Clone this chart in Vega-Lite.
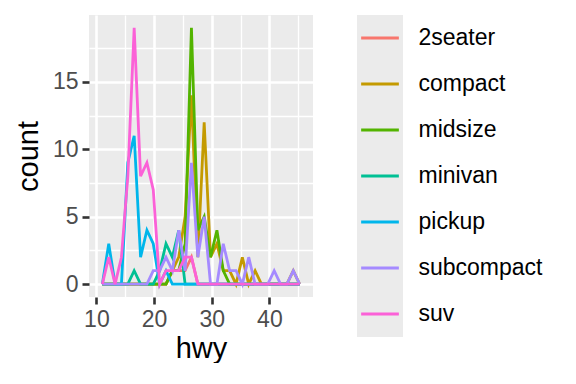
{
"$schema": "https://vega.github.io/schema/vega-lite/v6.json",
"padding": {"left": 14, "top": 15, "right": 0, "bottom": 0},
"background": "white",
"config": {"view": {"stroke": null}, "font": "Liberation Sans", "concat": {"spacing": 44}},
"datasets": {
"freq": [
{"class":"2seater","hwy":11.03,"count":0},{"class":"2seater","hwy":12.14,"count":0},{"class":"2seater","hwy":13.24,"count":0},{"class":"2seater","hwy":14.34,"count":0},{"class":"2seater","hwy":15.45,"count":0},{"class":"2seater","hwy":16.55,"count":0},{"class":"2seater","hwy":17.66,"count":0},{"class":"2seater","hwy":18.76,"count":0},{"class":"2seater","hwy":19.86,"count":0},{"class":"2seater","hwy":20.97,"count":0},{"class":"2seater","hwy":22.07,"count":0},{"class":"2seater","hwy":23.17,"count":1},{"class":"2seater","hwy":24.28,"count":1},{"class":"2seater","hwy":25.38,"count":1},{"class":"2seater","hwy":26.48,"count":2},{"class":"2seater","hwy":27.59,"count":0},{"class":"2seater","hwy":28.69,"count":0},{"class":"2seater","hwy":29.79,"count":0},{"class":"2seater","hwy":30.9,"count":0},{"class":"2seater","hwy":32,"count":0},{"class":"2seater","hwy":33.1,"count":0},{"class":"2seater","hwy":34.21,"count":0},{"class":"2seater","hwy":35.31,"count":0},{"class":"2seater","hwy":36.41,"count":0},{"class":"2seater","hwy":37.52,"count":0},{"class":"2seater","hwy":38.62,"count":0},{"class":"2seater","hwy":39.72,"count":0},{"class":"2seater","hwy":40.83,"count":0},{"class":"2seater","hwy":41.93,"count":0},{"class":"2seater","hwy":43.03,"count":0},{"class":"2seater","hwy":44.14,"count":0},{"class":"2seater","hwy":45.24,"count":0},
{"class":"compact","hwy":11.03,"count":0},{"class":"compact","hwy":12.14,"count":0},{"class":"compact","hwy":13.24,"count":0},{"class":"compact","hwy":14.34,"count":0},{"class":"compact","hwy":15.45,"count":0},{"class":"compact","hwy":16.55,"count":0},{"class":"compact","hwy":17.66,"count":0},{"class":"compact","hwy":18.76,"count":0},{"class":"compact","hwy":19.86,"count":0},{"class":"compact","hwy":20.97,"count":0},{"class":"compact","hwy":22.07,"count":0},{"class":"compact","hwy":23.17,"count":1},{"class":"compact","hwy":24.28,"count":2},{"class":"compact","hwy":25.38,"count":5},{"class":"compact","hwy":26.48,"count":14},{"class":"compact","hwy":27.59,"count":2},{"class":"compact","hwy":28.69,"count":12},{"class":"compact","hwy":29.79,"count":2},{"class":"compact","hwy":30.9,"count":3},{"class":"compact","hwy":32,"count":1},{"class":"compact","hwy":33.1,"count":1},{"class":"compact","hwy":34.21,"count":0},{"class":"compact","hwy":35.31,"count":2},{"class":"compact","hwy":36.41,"count":0},{"class":"compact","hwy":37.52,"count":1},{"class":"compact","hwy":38.62,"count":0},{"class":"compact","hwy":39.72,"count":0},{"class":"compact","hwy":40.83,"count":0},{"class":"compact","hwy":41.93,"count":0},{"class":"compact","hwy":43.03,"count":0},{"class":"compact","hwy":44.14,"count":1},{"class":"compact","hwy":45.24,"count":0},
{"class":"midsize","hwy":11.03,"count":0},{"class":"midsize","hwy":12.14,"count":0},{"class":"midsize","hwy":13.24,"count":0},{"class":"midsize","hwy":14.34,"count":0},{"class":"midsize","hwy":15.45,"count":0},{"class":"midsize","hwy":16.55,"count":0},{"class":"midsize","hwy":17.66,"count":0},{"class":"midsize","hwy":18.76,"count":0},{"class":"midsize","hwy":19.86,"count":0},{"class":"midsize","hwy":20.97,"count":0},{"class":"midsize","hwy":22.07,"count":0},{"class":"midsize","hwy":23.17,"count":1},{"class":"midsize","hwy":24.28,"count":1},{"class":"midsize","hwy":25.38,"count":3},{"class":"midsize","hwy":26.48,"count":19},{"class":"midsize","hwy":27.59,"count":4},{"class":"midsize","hwy":28.69,"count":5},{"class":"midsize","hwy":29.79,"count":2},{"class":"midsize","hwy":30.9,"count":4},{"class":"midsize","hwy":32,"count":1},{"class":"midsize","hwy":33.1,"count":0},{"class":"midsize","hwy":34.21,"count":0},{"class":"midsize","hwy":35.31,"count":0},{"class":"midsize","hwy":36.41,"count":0},{"class":"midsize","hwy":37.52,"count":0},{"class":"midsize","hwy":38.62,"count":0},{"class":"midsize","hwy":39.72,"count":0},{"class":"midsize","hwy":40.83,"count":0},{"class":"midsize","hwy":41.93,"count":0},{"class":"midsize","hwy":43.03,"count":0},{"class":"midsize","hwy":44.14,"count":0},{"class":"midsize","hwy":45.24,"count":0},
{"class":"minivan","hwy":11.03,"count":0},{"class":"minivan","hwy":12.14,"count":0},{"class":"minivan","hwy":13.24,"count":0},{"class":"minivan","hwy":14.34,"count":0},{"class":"minivan","hwy":15.45,"count":0},{"class":"minivan","hwy":16.55,"count":1},{"class":"minivan","hwy":17.66,"count":0},{"class":"minivan","hwy":18.76,"count":0},{"class":"minivan","hwy":19.86,"count":0},{"class":"minivan","hwy":20.97,"count":1},{"class":"minivan","hwy":22.07,"count":3},{"class":"minivan","hwy":23.17,"count":2},{"class":"minivan","hwy":24.28,"count":4},{"class":"minivan","hwy":25.38,"count":0},{"class":"minivan","hwy":26.48,"count":0},{"class":"minivan","hwy":27.59,"count":0},{"class":"minivan","hwy":28.69,"count":0},{"class":"minivan","hwy":29.79,"count":0},{"class":"minivan","hwy":30.9,"count":0},{"class":"minivan","hwy":32,"count":0},{"class":"minivan","hwy":33.1,"count":0},{"class":"minivan","hwy":34.21,"count":0},{"class":"minivan","hwy":35.31,"count":0},{"class":"minivan","hwy":36.41,"count":0},{"class":"minivan","hwy":37.52,"count":0},{"class":"minivan","hwy":38.62,"count":0},{"class":"minivan","hwy":39.72,"count":0},{"class":"minivan","hwy":40.83,"count":0},{"class":"minivan","hwy":41.93,"count":0},{"class":"minivan","hwy":43.03,"count":0},{"class":"minivan","hwy":44.14,"count":0},{"class":"minivan","hwy":45.24,"count":0},
{"class":"pickup","hwy":11.03,"count":0},{"class":"pickup","hwy":12.14,"count":3},{"class":"pickup","hwy":13.24,"count":0},{"class":"pickup","hwy":14.34,"count":0},{"class":"pickup","hwy":15.45,"count":9},{"class":"pickup","hwy":16.55,"count":11},{"class":"pickup","hwy":17.66,"count":2},{"class":"pickup","hwy":18.76,"count":4},{"class":"pickup","hwy":19.86,"count":3},{"class":"pickup","hwy":20.97,"count":0},{"class":"pickup","hwy":22.07,"count":1},{"class":"pickup","hwy":23.17,"count":0},{"class":"pickup","hwy":24.28,"count":0},{"class":"pickup","hwy":25.38,"count":0},{"class":"pickup","hwy":26.48,"count":0},{"class":"pickup","hwy":27.59,"count":0},{"class":"pickup","hwy":28.69,"count":0},{"class":"pickup","hwy":29.79,"count":0},{"class":"pickup","hwy":30.9,"count":0},{"class":"pickup","hwy":32,"count":0},{"class":"pickup","hwy":33.1,"count":0},{"class":"pickup","hwy":34.21,"count":0},{"class":"pickup","hwy":35.31,"count":0},{"class":"pickup","hwy":36.41,"count":0},{"class":"pickup","hwy":37.52,"count":0},{"class":"pickup","hwy":38.62,"count":0},{"class":"pickup","hwy":39.72,"count":0},{"class":"pickup","hwy":40.83,"count":0},{"class":"pickup","hwy":41.93,"count":0},{"class":"pickup","hwy":43.03,"count":0},{"class":"pickup","hwy":44.14,"count":0},{"class":"pickup","hwy":45.24,"count":0},
{"class":"subcompact","hwy":11.03,"count":0},{"class":"subcompact","hwy":12.14,"count":0},{"class":"subcompact","hwy":13.24,"count":0},{"class":"subcompact","hwy":14.34,"count":0},{"class":"subcompact","hwy":15.45,"count":0},{"class":"subcompact","hwy":16.55,"count":0},{"class":"subcompact","hwy":17.66,"count":0},{"class":"subcompact","hwy":18.76,"count":0},{"class":"subcompact","hwy":19.86,"count":1},{"class":"subcompact","hwy":20.97,"count":1},{"class":"subcompact","hwy":22.07,"count":2},{"class":"subcompact","hwy":23.17,"count":1},{"class":"subcompact","hwy":24.28,"count":4},{"class":"subcompact","hwy":25.38,"count":1},{"class":"subcompact","hwy":26.48,"count":9},{"class":"subcompact","hwy":27.59,"count":2},{"class":"subcompact","hwy":28.69,"count":5},{"class":"subcompact","hwy":29.79,"count":0},{"class":"subcompact","hwy":30.9,"count":0},{"class":"subcompact","hwy":32,"count":3},{"class":"subcompact","hwy":33.1,"count":1},{"class":"subcompact","hwy":34.21,"count":1},{"class":"subcompact","hwy":35.31,"count":0},{"class":"subcompact","hwy":36.41,"count":2},{"class":"subcompact","hwy":37.52,"count":0},{"class":"subcompact","hwy":38.62,"count":0},{"class":"subcompact","hwy":39.72,"count":0},{"class":"subcompact","hwy":40.83,"count":1},{"class":"subcompact","hwy":41.93,"count":0},{"class":"subcompact","hwy":43.03,"count":0},{"class":"subcompact","hwy":44.14,"count":1},{"class":"subcompact","hwy":45.24,"count":0},
{"class":"suv","hwy":11.03,"count":0},{"class":"suv","hwy":12.14,"count":2},{"class":"suv","hwy":13.24,"count":0},{"class":"suv","hwy":14.34,"count":2},{"class":"suv","hwy":15.45,"count":8},{"class":"suv","hwy":16.55,"count":19},{"class":"suv","hwy":17.66,"count":8},{"class":"suv","hwy":18.76,"count":9},{"class":"suv","hwy":19.86,"count":7},{"class":"suv","hwy":20.97,"count":0},{"class":"suv","hwy":22.07,"count":1},{"class":"suv","hwy":23.17,"count":1},{"class":"suv","hwy":24.28,"count":1},{"class":"suv","hwy":25.38,"count":2},{"class":"suv","hwy":26.48,"count":2},{"class":"suv","hwy":27.59,"count":0},{"class":"suv","hwy":28.69,"count":0},{"class":"suv","hwy":29.79,"count":0},{"class":"suv","hwy":30.9,"count":0},{"class":"suv","hwy":32,"count":0},{"class":"suv","hwy":33.1,"count":0},{"class":"suv","hwy":34.21,"count":0},{"class":"suv","hwy":35.31,"count":0},{"class":"suv","hwy":36.41,"count":0},{"class":"suv","hwy":37.52,"count":0},{"class":"suv","hwy":38.62,"count":0},{"class":"suv","hwy":39.72,"count":0},{"class":"suv","hwy":40.83,"count":0},{"class":"suv","hwy":41.93,"count":0},{"class":"suv","hwy":43.03,"count":0},{"class":"suv","hwy":44.14,"count":0},{"class":"suv","hwy":45.24,"count":0}
],
"classes": [{"class":"2seater"},{"class":"compact"},{"class":"midsize"},{"class":"minivan"},{"class":"pickup"},{"class":"subcompact"},{"class":"suv"}]
},
"hconcat": [
{
"width": 224, "height": 282,
"data": {"name": "freq"},
"view": {"fill": "#ebebeb", "stroke": null},
"layer": [
{"mark": {"type": "line", "strokeOpacity": 0},
 "encoding": {
  "x": {"field": "hwy", "type": "quantitative", "scale": {"domain": [8.717, 47.559], "nice": false, "zero": false},
        "axis": {"orient": "bottom", "values": [15, 25, 35, 45], "grid": true, "gridColor": "white", "gridWidth": 1.3, "labels": false, "ticks": false, "domain": false, "title": null, "minExtent": 0, "maxExtent": 0}},
  "y": {"field": "count", "type": "quantitative", "scale": {"domain": [-0.95, 19.95], "nice": false, "zero": false},
        "axis": {"orient": "left", "values": [2.5, 7.5, 12.5, 17.5], "grid": true, "gridColor": "white", "gridWidth": 1.3, "labels": false, "ticks": false, "domain": false, "title": null, "minExtent": 0, "maxExtent": 0}},
  "detail": {"field": "class", "type": "nominal"}
 }},
{"mark": {"type": "line", "strokeWidth": 2.8},
 "encoding": {
  "x": {"field": "hwy", "type": "quantitative", "scale": {"domain": [8.717, 47.559], "nice": false, "zero": false},
        "axis": {"orient": "bottom", "values": [10, 20, 30, 40], "grid": true, "gridColor": "white", "gridWidth": 2.6, "domain": false, "tickColor": "#333333", "tickSize": 7, "tickWidth": 2.6, "labelFontSize": 23, "labelColor": "#4d4d4d", "labelPadding": 4, "title": "hwy", "titleFontSize": 29, "titleFontWeight": "normal", "titleColor": "black", "titlePadding": 3}},
  "y": {"field": "count", "type": "quantitative", "scale": {"domain": [-0.95, 19.95], "nice": false, "zero": false},
        "axis": {"orient": "left", "values": [0, 5, 10, 15], "grid": true, "gridColor": "white", "gridWidth": 2.6, "domain": false, "tickColor": "#333333", "tickSize": 7, "tickWidth": 2.6, "labelFontSize": 23, "labelColor": "#4d4d4d", "labelPadding": 4, "title": "count", "titleFontSize": 29, "titleFontWeight": "normal", "titleColor": "black", "titlePadding": 9}},
  "color": {"field": "class", "type": "nominal",
            "scale": {"domain": ["2seater","compact","midsize","minivan","pickup","subcompact","suv"], "range": ["#F8766D","#C49A00","#53B400","#00C094","#00B6EB","#A58AFF","#FB61D7"]},
            "legend": null}
 }}
],
"resolve": {"axis": {"x": "independent", "y": "independent"}}
},
{
"width": 46, "height": 322,
"data": {"name": "classes"},
"layer": [
{"mark": {"type": "rect", "fill": "#ebebeb"},
 "encoding": {
  "y": {"field": "class", "type": "nominal", "sort": null, "scale": {"domain": ["2seater","compact","midsize","minivan","pickup","subcompact","suv"], "paddingInner": 0, "paddingOuter": 0},
        "axis": {"orient": "right", "title": null, "ticks": false, "domain": false, "grid": false, "labelFontSize": 23, "labelColor": "black", "labelPadding": 15}},
  "x": {"datum": 0, "type": "quantitative", "scale": {"domain": [0, 1]}, "axis": null},
  "x2": {"datum": 1}
 }},
{"mark": {"type": "rule", "strokeWidth": 2.8},
 "encoding": {
  "y": {"field": "class", "type": "nominal", "sort": null},
  "x": {"datum": 0.09, "type": "quantitative", "scale": {"domain": [0, 1]}, "axis": null},
  "x2": {"datum": 0.91},
  "color": {"field": "class", "type": "nominal",
            "scale": {"domain": ["2seater","compact","midsize","minivan","pickup","subcompact","suv"], "range": ["#F8766D","#C49A00","#53B400","#00C094","#00B6EB","#A58AFF","#FB61D7"]},
            "legend": null}
 }}
]
}
]
}
